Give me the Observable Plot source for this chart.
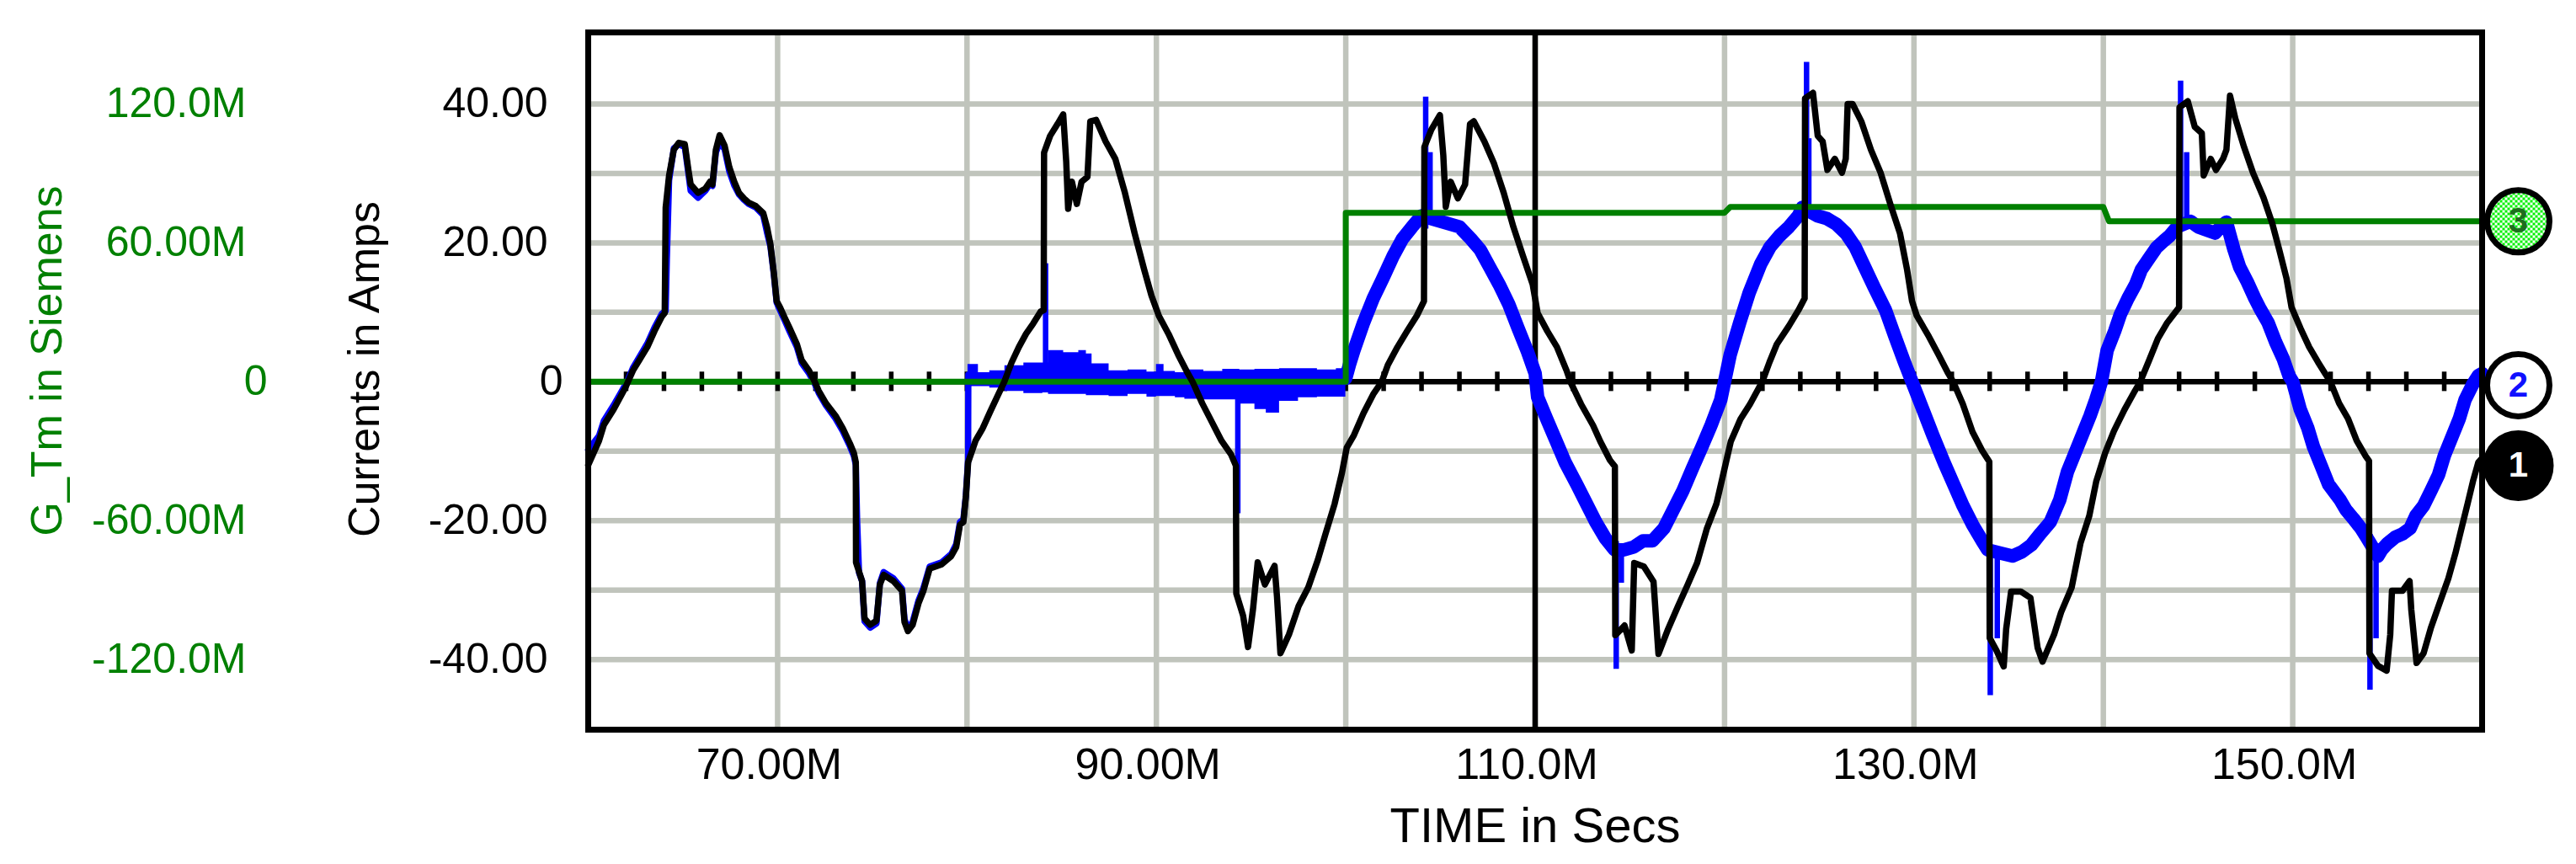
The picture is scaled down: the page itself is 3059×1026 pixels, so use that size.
<!DOCTYPE html>
<html>
<head>
<meta charset="utf-8">
<script src="https://cdn.jsdelivr.net/npm/d3@7"></script>
<script src="https://cdn.jsdelivr.net/npm/@observablehq/plot@0.6"></script>
<style>
html,body{margin:0;padding:0;background:#fff;}
#chart svg{display:block;}
</style>
</head>
<body>
<div id="chart"></div>
<script>
// ---------- data (time in M-units, currents in A, conductance in M-Siemens) ----------
const blackT = [60.0,60.57,60.83,61.34,61.97,62.1,62.36,63.12,63.5,63.89,64.04,64.09,64.27,64.52,64.78,65.1,65.29,65.41,65.8,66.18,66.43,66.56,66.74,66.94,67.2,67.45,67.71,67.96,68.22,68.47,68.85,69.24,69.44,69.62,69.8,69.95,70.13,70.38,70.64,71.02,71.27,71.66,71.96,72.17,72.55,73.06,73.44,73.82,74.03,74.13,74.14,74.46,74.59,74.89,75.22,75.4,75.6,76.11,76.57,76.7,76.88,77.13,77.44,77.7,78.03,78.66,79.17,79.43,79.63,79.81,79.94,80.06,80.45,80.83,81.21,81.59,81.97,82.36,82.74,83.12,83.5,83.89,84.05,84.07,84.39,84.78,85.08,85.24,85.34,85.54,85.8,86.05,86.36,86.51,86.82,87.32,87.83,88.34,88.85,89.36,89.74,90.13,90.64,91.15,91.66,91.91,92.42,92.93,93.44,93.95,94.2,94.22,94.58,94.84,95.1,95.35,95.73,96.24,96.37,96.55,97.0,97.51,98.02,98.53,98.92,99.41,99.8,100.05,100.43,100.94,101.45,101.9,102.22,102.73,103.24,103.75,104.13,104.15,104.52,104.97,105.15,105.28,105.54,105.92,106.3,106.56,106.76,107.32,107.83,108.34,108.85,109.36,109.87,110.13,110.64,111.15,111.66,111.86,112.42,113.06,113.44,113.95,114.21,114.23,114.72,115.1,115.23,115.74,116.25,116.51,117.02,117.53,118.04,118.55,119.06,119.57,119.95,120.33,120.84,121.35,121.99,122.37,122.76,123.39,123.9,124.23,124.25,124.67,124.92,125.18,125.43,125.82,126.2,126.4,126.5,126.76,127.22,127.73,128.24,128.75,129.26,129.64,129.9,130.15,130.79,131.3,131.81,132.07,132.58,133.09,133.6,133.98,134.0,134.36,134.74,134.87,135.13,135.64,136.15,136.53,136.79,137.4,137.77,138.33,138.79,139.26,139.63,140.09,140.56,141.12,141.67,141.95,142.42,142.88,143.35,144.0,144.02,144.46,144.83,145.2,145.3,145.67,145.95,146.32,146.5,146.69,146.97,147.43,147.9,148.46,148.92,149.29,149.67,149.94,150.41,150.87,151.34,151.71,151.99,152.45,152.92,153.38,153.85,154.03,154.05,154.5,154.96,155.15,155.24,155.8,156.17,156.26,156.54,156.91,157.29,157.75,158.22,158.59,158.96,159.24,159.52,159.8,160.0];
const blackV = [-12.0,-8.5,-6.2,-4.0,-0.8,0,1.6,5.0,7.3,9.4,9.9,25.1,29.7,33.4,34.4,34.2,30.5,28.4,27.2,27.8,28.8,28.4,33.4,35.5,34.0,30.9,28.8,27.2,26.4,25.8,25.3,24.3,22.3,19.8,15.7,11.6,10.7,9.2,7.7,5.4,3.1,1.6,0,-1.3,-3.1,-4.9,-6.7,-8.9,-10.3,-11.6,-26.0,-28.7,-34.1,-35.0,-34.4,-29.2,-27.8,-28.7,-30.1,-34.6,-35.9,-35.0,-31.9,-30.1,-26.9,-26.3,-25.1,-23.8,-20.6,-20.2,-16.6,-11.6,-8.5,-6.7,-4.4,-2.2,0,2.8,5.0,6.9,8.4,10.1,10.3,33.0,35.4,37.1,38.5,31.7,24.9,28.8,25.6,28.8,29.5,37.5,37.7,34.6,32.1,27.2,21.4,16.1,12.4,9.5,6.9,3.9,1.2,0,-3.1,-5.8,-8.5,-10.5,-12.1,-30.5,-33.7,-38.2,-32.8,-26.0,-29.2,-26.5,-31.0,-39.1,-36.4,-32.3,-29.6,-25.6,-22.0,-17.6,-13.1,-9.5,-7.7,-4.5,-1.8,0,2.4,5.0,7.3,9.5,11.6,33.8,36.3,38.4,32.6,25.2,28.8,26.4,28.4,37.1,37.5,34.6,31.4,27.2,22.3,18.1,14.0,9.9,7.3,5.0,1.6,0,-3.2,-6.3,-8.6,-11.3,-12.2,-36.5,-35.1,-38.7,-26.1,-26.6,-28.8,-39.2,-35.6,-32.4,-29.3,-26.1,-21.2,-17.6,-13.1,-8.6,-5.4,-3.2,0,2.8,5.4,8.0,10.3,12.0,40.8,41.6,35.4,34.6,30.5,32.1,30.1,32.1,40.0,40.0,37.5,33.4,30.1,25.6,21.4,16.1,11.6,9.5,6.5,3.9,1.2,0,-3.2,-7.2,-9.9,-11.5,-36.9,-38.7,-41.0,-35.6,-30.2,-30.2,-31.1,-38.3,-40.3,-36.4,-33.2,-29.6,-23.3,-19.3,-14.3,-10.3,-7.1,-4.0,-1.3,0,3.1,6.2,8.4,10.7,39.5,40.4,36.7,35.8,29.7,32.1,30.5,32.1,33.4,41.2,37.9,33.8,30.1,26.5,22.8,19.0,14.9,10.7,7.7,5.0,2.8,1.2,0,-3.1,-5.3,-8.5,-10.7,-11.4,-39.1,-40.9,-41.6,-36.4,-30.1,-30.1,-28.7,-32.8,-40.5,-39.1,-35.5,-31.9,-28.3,-24.7,-20.6,-17.5,-14.3,-11.6,-11.0];

// blue, first part (overlapping black until 80M)
const blueAT = [60.0,60.57,60.83,61.34,61.97,62.1,62.36,63.12,63.5,63.89,64.09,64.15,64.27,64.52,64.78,65.1,65.29,65.41,65.8,66.18,66.43,66.56,66.74,66.94,67.2,67.45,67.71,67.96,68.22,68.47,68.85,69.24,69.44,69.62,69.8,69.95,70.13,70.38,70.64,71.02,71.27,71.66,71.96,72.17,72.55,73.06,73.44,73.82,74.03,74.13,74.2,74.3,74.46,74.59,74.89,75.22,75.4,75.6,76.11,76.57,76.7,76.88,77.13,77.44,77.7,78.03,78.66,79.17,79.43,79.63,79.81,79.94,80.06,80.07];
const blueAV = [-9.8,-7.8,-5.6,-3.4,-0.4,0.3,2.0,5.5,7.8,9.8,10.2,17.5,29.0,33.6,34.2,33.8,30.0,27.5,26.5,27.5,28.5,28.2,33.0,34.5,33.5,30.3,28.3,27.0,26.2,25.6,25.1,24.0,21.5,19.5,15.5,11.4,10.3,8.8,7.2,5.0,2.7,1.2,-0.3,-1.6,-3.4,-5.3,-7.1,-9.3,-10.7,-12.0,-20.0,-27.5,-28.7,-34.5,-35.4,-34.8,-29.0,-27.4,-28.3,-29.8,-34.2,-35.5,-34.6,-31.5,-29.7,-26.6,-26.0,-24.8,-23.4,-20.2,-19.8,-16.4,-11.2,1.0];

// blue noise envelope between 80M and 100M
const noiseT  = [80.05,80.6,81.2,82.0,83.0,84.0,84.3,85.1,85.9,86.3,86.6,87.5,88.5,89.5,90.0,90.4,91.0,91.5,92.5,93.5,94.4,95.2,95.8,96.5,97.5,98.5,99.5,100.0];
const noiseLo = [-0.7,-0.7,-0.9,-1.4,-1.7,-1.6,-1.8,-1.8,-1.8,-2.0,-2.0,-2.1,-1.8,-2.2,-2.1,-2.1,-2.3,-2.5,-2.6,-2.6,-3.2,-4.0,-4.5,-2.8,-2.3,-2.2,-2.2,-1.5];
const noiseHi = [2.5,1.3,1.6,2.3,2.7,2.7,4.5,4.2,4.5,4.0,2.6,1.6,1.7,1.4,2.5,1.5,1.3,1.7,1.5,1.8,1.7,1.8,1.8,1.9,1.9,1.7,1.9,2.0];

// blue, second part (thick noisy sinusoid from 100M)
const blueBT = [100.0,100.2,100.43,100.94,101.45,101.96,102.5,103.0,103.5,104.0,104.5,105.0,105.5,106.0,106.6,107.1,107.6,108.1,108.6,109.1,109.6,110.0,110.13,110.6,111.1,111.6,112.2,112.7,113.2,113.7,114.2,114.7,115.2,115.7,116.2,116.8,117.3,117.8,118.3,118.8,119.3,119.8,120.0,120.3,120.8,121.3,121.9,122.4,122.9,123.4,123.9,124.1,124.9,125.4,125.9,126.4,126.9,127.4,127.9,128.5,129.0,129.5,129.9,130.5,131.0,131.6,132.1,132.6,133.1,133.6,133.9,134.6,135.2,135.7,136.2,136.7,137.2,137.7,138.1,138.5,138.9,139.3,139.6,139.9,140.2,140.6,140.9,141.3,141.7,142.0,142.4,142.8,143.2,143.5,143.9,144.6,145.0,145.4,145.9,146.2,146.5,146.7,146.9,147.2,147.6,148.0,148.3,148.7,149.1,149.5,149.8,150.0,150.4,150.8,151.1,151.5,151.9,152.5,152.8,153.2,153.6,153.9,154.5,154.7,155.0,155.4,155.8,156.2,156.5,156.9,157.3,157.7,158.0,158.4,158.8,159.1,159.5,159.8,160.0];
const blueBV = [0.5,2.5,4.5,8.5,12.0,14.9,18.1,20.6,22.3,23.9,23.5,23.1,22.7,22.3,20.6,19.0,16.5,14.0,11.2,7.7,4.3,1.2,-2.2,-5.3,-8.5,-11.7,-14.8,-17.5,-20.2,-22.5,-24.2,-24.2,-23.8,-22.9,-22.9,-21.1,-18.4,-15.7,-12.5,-9.4,-6.2,-2.6,0,3.9,8.5,12.8,16.9,19.4,21.0,22.3,23.9,25.1,23.9,23.5,22.7,21.4,19.4,16.5,13.6,10.3,6.5,2.8,0,-4.2,-7.7,-11.7,-14.8,-17.9,-20.6,-22.9,-24.2,-24.7,-25.1,-24.5,-23.5,-21.8,-20.2,-17.0,-13.0,-10.3,-7.6,-4.9,-2.6,0,4.5,7.3,9.7,12.0,14.0,16.1,17.7,19.3,20.3,21.0,22.3,23.1,22.3,21.9,21.4,22.3,23.0,21.0,19.0,16.5,14.4,12.0,10.4,8.5,5.7,3.3,0.9,0,-4.0,-6.7,-9.4,-12.1,-14.8,-17.0,-18.4,-19.7,-21.1,-22.4,-25.1,-24.2,-23.3,-22.4,-21.9,-21.1,-19.3,-17.9,-15.7,-13.4,-10.7,-8.0,-5.3,-2.6,-0.4,0.9,1.2];

// blue spikes: time, start value, end value
const spikeT    = [84.15,94.3,104.22,104.45,114.28,114.55,124.33,124.45,134.03,134.4,144.08,144.4,154.08,154.4];
const spikeFrom = [2,-2,22,24,-23,-24,24,24,-24,-24,22,22,-22,-24];
const spikeTo   = [17,-19,41,33,-41.4,-29,46,35,-45.2,-37,43.3,33,-44.4,-37];

// green conductance G_Tm (M Siemens), step trace
const greenT = [60,100,100,120,120.3,140,140.3,160];
const greenG = [0,0,73,73,75.5,75.5,69.3,69.3];

// axes / grid
const xGrid = [70,80,90,100,110,120,130,140,150];
const yGrid = [-40,-30,-20,-10,10,20,30,40];
const zeroTicks = [62,64,66,68,70,72,74,76,78,80,82,84,86,88,90,92,94,96,98,100,102,104,106,108,110,112,114,116,118,120,122,124,126,128,130,132,134,136,138,140,142,144,146,148,150,152,154,156,158];
const xTickVals = [70,90,110,130,150];
const xTickLabels = ["70.00M","90.00M","110.0M","130.0M","150.0M"];
const yTickVals = [40,20,0,-20,-40];
const yTickLabels = ["40.00","20.00","0","-20.00","-40.00"];
const gTickVals = [120,60,0,-60,-120];
const gTickLabels = ["120.0M","60.00M","0","-60.00M","-120.0M"];
const cursorT = [110];

// ---------- build tables ----------
const black = blackT.map((t,i)=>({t, v: blackV[i]}));
const blueA = blueAT.map((t,i)=>({t, v: blueAV[i]}));
const blueB = blueBT.map((t,i)=>({t, v: blueBV[i]}));
const noise = noiseT.map((t,i)=>({t, lo: noiseLo[i], hi: noiseHi[i]}));
const spikes = spikeT.map((t,i)=>({t, a: spikeFrom[i], b: spikeTo[i]}));
const green = greenT.map((t,i)=>({t, g: greenG[i]}));
const G_PER_A = 3; // 120.0M Siemens <-> 40.00 A
const xTicks = xTickVals.map((v,i)=>({v, label: xTickLabels[i]}));
const yTicks = yTickVals.map((v,i)=>({v, label: yTickLabels[i]}));
const gTicks = gTickVals.map((v,i)=>({v: v / G_PER_A, label: gTickLabels[i]}));

const BLUE = "#0000ff", GREEN = "#008000", GRID = "#c0c4bc";
const FONT = "'Liberation Sans', Arial, Helvetica, sans-serif";

const endBlack = black[black.length-1];
const endBlue = blueB[blueB.length-1];
const endGreen = {t: green[green.length-1].t, v: green[green.length-1].g / G_PER_A};

const defsMark = () => {
  const defs = d3.create("svg:defs");
  const p = defs.append("pattern").attr("id","dither3").attr("width",6).attr("height",6).attr("patternUnits","userSpaceOnUse");
  p.append("rect").attr("width",6).attr("height",6).attr("fill","#ffffff");
  p.append("rect").attr("width",3).attr("height",3).attr("fill","#00f000");
  p.append("rect").attr("x",3).attr("y",3).attr("width",3).attr("height",3).attr("fill","#00f000");
  return defs.node();
};

const chart = Plot.plot({
  width: 3059,
  height: 1026,
  marginLeft: 698,
  marginRight: 112,
  marginTop: 38,
  marginBottom: 160,
  x: {domain: [60, 160], axis: null},
  y: {domain: [-50.1, 50.3], axis: null},
  style: {fontFamily: FONT, background: "#ffffff", color: "#000"},
  marks: [
    defsMark,
    Plot.ruleX(xGrid, {stroke: GRID, strokeWidth: 6.5}),
    Plot.ruleY(yGrid, {stroke: GRID, strokeWidth: 6.5}),
    Plot.ruleY([0], {stroke: "#000", strokeWidth: 6.5}),
    Plot.ruleX(zeroTicks, {y1: -1.4, y2: 1.4, stroke: "#000", strokeWidth: 5.5}),
    Plot.ruleX(cursorT, {stroke: "#000", strokeWidth: 6.5}),
    Plot.areaY(noise, {x: "t", y1: "lo", y2: "hi", fill: BLUE, curve: "step-after"}),
    Plot.line(blueA, {x: "t", y: "v", stroke: BLUE, strokeWidth: 7.5}),
    Plot.line(blueB, {x: "t", y: "v", stroke: BLUE, strokeWidth: 16, strokeLinejoin: "round"}),
    Plot.ruleX(spikes, {x: "t", y1: "a", y2: "b", stroke: BLUE, strokeWidth: 6.5}),
    Plot.line(green, {x: "t", y: d => d.g / G_PER_A, stroke: GREEN, strokeWidth: 7}),
    Plot.line(black, {x: "t", y: "v", stroke: "#000", strokeWidth: 7.5}),
    Plot.frame({stroke: "#000", strokeWidth: 7}),

    // end markers
    Plot.dot([endGreen], {x: "t", y: "v", dx: 43, r: 37, fill: "url(#dither3)", stroke: "#000", strokeWidth: 7}),
    Plot.text([endGreen], {x: "t", y: "v", dx: 43, text: () => "3", fontSize: 42, fontWeight: "bold", fill: "#1e6e1e"}),
    Plot.dot([endBlue], {x: "t", y: "v", dx: 43, dy: 14, r: 37, fill: "#ffffff", stroke: "#000", strokeWidth: 7}),
    Plot.text([endBlue], {x: "t", y: "v", dx: 43, dy: 14, text: () => "2", fontSize: 42, fontWeight: "bold", fill: "#1010ff"}),
    Plot.dot([endBlack], {x: "t", y: "v", dx: 43, dy: 9, r: 40, fill: "#000", stroke: "#000", strokeWidth: 4}),
    Plot.text([endBlack], {x: "t", y: "v", dx: 43, dy: 9, text: () => "1", fontSize: 42, fontWeight: "bold", fill: "#ffffff"}),

    // x tick labels
    Plot.text(xTicks, {x: "v", text: "label", frameAnchor: "bottom", lineAnchor: "top", textAnchor: "middle", dy: 22, dx: -10, fontSize: 52, fill: "#000"}),
    Plot.text(["TIME in Secs"], {frameAnchor: "bottom", lineAnchor: "top", textAnchor: "middle", dy: 92, fontSize: 58, fill: "#000"}),

    // left (current) axis labels
    Plot.text(yTicks.filter(d => d.v !== 0), {y: "v", text: "label", frameAnchor: "left", textAnchor: "end", lineAnchor: "middle", dx: -48, fontSize: 50, fill: "#000"}),
    Plot.text(yTicks.filter(d => d.v === 0), {y: "v", text: "label", frameAnchor: "left", textAnchor: "end", lineAnchor: "middle", dx: -30, fontSize: 50, fill: "#000"}),
    Plot.text(["Currents in Amps"], {frameAnchor: "left", rotate: -90, textAnchor: "middle", lineAnchor: "bottom", dx: -249, dy: -14, fontSize: 52, fill: "#000"}),

    // green (conductance) axis labels
    Plot.text(gTicks.filter(d => d.v !== 0), {y: "v", text: "label", frameAnchor: "left", textAnchor: "end", lineAnchor: "middle", dx: -406, fontSize: 50, fill: GREEN}),
    Plot.text(gTicks.filter(d => d.v === 0), {y: "v", text: "label", frameAnchor: "left", textAnchor: "end", lineAnchor: "middle", dx: -381, fontSize: 50, fill: GREEN}),
    Plot.text(["G_Tm in Siemens"], {frameAnchor: "left", rotate: -90, textAnchor: "middle", lineAnchor: "bottom", dx: -626, dy: -24, fontSize: 52, fill: GREEN})
  ]
});
document.getElementById("chart").appendChild(chart);
</script>
</body>
</html>
